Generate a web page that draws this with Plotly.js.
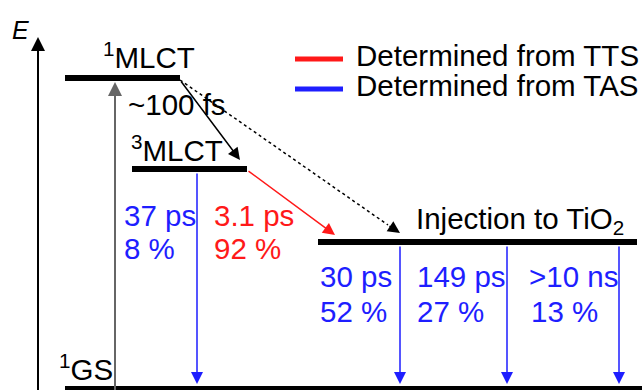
<!DOCTYPE html>
<html><head><meta charset="utf-8">
<script src="https://cdn.plot.ly/plotly-3.0.1.min.js"></script>
<style>html,body{margin:0;padding:0;background:#fff;}#chart{width:642px;height:390px;}</style>
</head><body><div id="chart"></div>
<script>
// Energy levels (arbitrary energy units, ground state = 0)
const levelNames = ['<sup>1</sup>GS', '<sup>1</sup>MLCT', '<sup>3</sup>MLCT', 'Injection to TiO<sub>2</sub>'];
const levelEnergy = [0, 311, 220, 147];
const levelXStart = [65, 65, 132, 318];
const levelXEnd = [642, 180, 247, 637];

// Decay channels (from -> to, lifetime, fraction, source technique)
const decayFrom = [2, 2, 3, 3, 3];
const decayTo = [0, 3, 0, 0, 0];
const decayLifetime = ['37 ps', '3.1 ps', '30 ps', '149 ps', '>10 ns'];
const decayFraction = ['8 %', '92 %', '52 %', '27 %', '13 %'];
const decaySource = ['TAS', 'TTS', 'TAS', 'TAS', 'TAS'];

const relaxLabel = '~100 fs';
const sourceNames = ['TTS', 'TAS'];
const sourceLabels = ['Determined from TTS', 'Determined from TAS'];

// ---------- styling / layout ----------
const FONT = 'Arial, "Liberation Sans", Helvetica, sans-serif';
const FS = 29.5;
const BLUE = 'rgb(30,30,255)';
const RED = 'rgb(255,25,25)';
const srcColor = {TTS: RED, TAS: BLUE};
const px = p => 389 - p; // helper: vertical offset from top edge to energy units

const traces = levelNames.map((n, i) => ({
  type: 'scatter', mode: 'lines', hoverinfo: 'skip', showlegend: false,
  x: [levelXStart[i], levelXEnd[i]], y: [levelEnergy[i], levelEnergy[i]],
  line: {color: '#000', width: 6}
}));

// dotted direct injection line
traces.push({type: 'scatter', mode: 'lines', hoverinfo: 'skip', showlegend: false,
  x: [180, 388], y: [levelEnergy[1] - 2, levelEnergy[3] + 17],
  line: {color: '#000', width: 1.5, dash: 'dot'}});

const ann = [];
function arrow(x0, y0, x1, y1, color, w, size) {
  ann.push({x: x1, y: y1, ax: x0, ay: y0, xref: 'x', yref: 'y', axref: 'x', ayref: 'y',
    text: '', showarrow: true, arrowhead: 2, arrowsize: size || 1.6, arrowwidth: w || 1.5,
    arrowcolor: color, standoff: 0});
}
function label(x, y, t, color, size, anchor) {
  ann.push({x: x, y: y, xref: 'x', yref: 'y', text: t, showarrow: false,
    xanchor: anchor || 'left', yanchor: 'middle',
    font: {family: FONT, size: size || FS, color: color || '#000'}});
}

// energy axis
arrow(38, -5, 38, px(37), '#000', 2, 1.4);
label(20, px(30), '<i>E</i>', '#000', 25, 'center');

// excitation
arrow(115, -5, 115, levelEnergy[1] - 4, '#666', 2, 1.4);
// 1MLCT -> 3MLCT relaxation
arrow(180, levelEnergy[1] - 2, 240, levelEnergy[2] + 9, '#000', 1.5, 1.6);
// dotted direct injection head
arrow(388, levelEnergy[3] + 17, 400, levelEnergy[3] + 9, '#000', 1.5, 1.6);

// decays
const decayX = [197, 247, 400, 507, 619];
decayFrom.forEach((f, i) => {
  const c = srcColor[decaySource[i]];
  if (decayTo[i] === 0) {
    arrow(decayX[i], levelEnergy[f] - 3, decayX[i], levelEnergy[0] + 5, c, 1.5, 1.6);
  } else {
    arrow(decayX[i], levelEnergy[f] - 1, 335, levelEnergy[decayTo[i]] + 7, c, 1.5, 1.6);
  }
});

// level labels
label(101, px(55), levelNames[1]);
label(129, px(148), levelNames[2]);
label(57, px(367), levelNames[0]);
label(414, px(220), levelNames[3]);
label(126, px(104), relaxLabel);

// decay labels
const labX = [122, 212, 318, 415, 527];
const labY1 = [215, 215, 276, 276, 276];
const labY2 = [248, 248, 311, 311, 311];
decayLifetime.forEach((t, i) => {
  const c = srcColor[decaySource[i]];
  label(labX[i], px(labY1[i]), t, c);
  label(labX[i] + (i === 4 ? 2 : 0), px(labY2[i]), decayFraction[i], c);
});

// legend
const shapes = [];
sourceNames.forEach((s, i) => {
  const yy = px(59 + 30 * i);
  shapes.push({type: 'line', xref: 'x', yref: 'y', x0: 295, x1: 343, y0: yy, y1: yy,
    line: {color: srcColor[s], width: 5}});
  label(354, px(55 + 30 * i), sourceLabels[i]);
});

const layout = {
  width: 642, height: 390, margin: {l: 0, r: 0, t: 0, b: 0},
  paper_bgcolor: '#fff', plot_bgcolor: '#fff',
  xaxis: {range: [0, 642], visible: false, fixedrange: true},
  yaxis: {range: [-1, 389], visible: false, fixedrange: true},
  showlegend: false, annotations: ann, shapes: shapes,
  font: {family: FONT}
};
Plotly.newPlot('chart', traces, layout, {staticPlot: true, displayModeBar: false});
</script></body></html>
